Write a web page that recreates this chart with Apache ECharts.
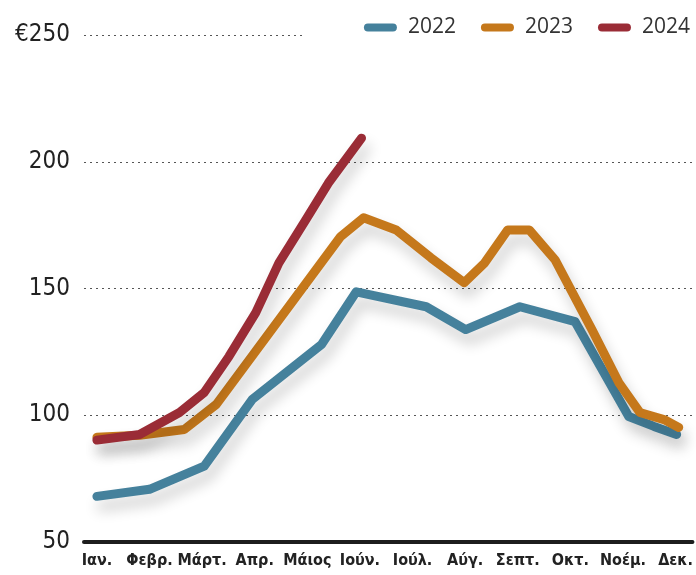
<!DOCTYPE html>
<html>
<head>
<meta charset="utf-8">
<title>Τιμές 2022-2024</title>
<style>
  * { margin: 0; padding: 0; }
  html, body { width: 100%; height: 100%; background: #fff; }
  #box { width: 696px; height: 575px; }
</style>
</head>
<body>
<div id="box"></div>
<script src="https://cdn.jsdelivr.net/npm/echarts@6/dist/echarts.min.js"></script>
<script>
var months = ['Ιαν.', 'Φεβρ.', 'Μάρτ.', 'Απρ.', 'Μάιος', 'Ιούν.', 'Ιούλ.', 'Αύγ.', 'Σεπτ.', 'Οκτ.', 'Νοέμ.', 'Δεκ.'];
var monthIdx = [0, 1, 2, 3, 4, 5, 6, 7, 8, 9, 10, 11];
var years = ['2022', '2023', '2024'];
var colors = ['#45819c', '#c5781b', '#9a2c36'];

// x = month index (0 = Ιαν.), fractional where the line bends between months
var x2022 = [0, 1.0, 2.04, 2.95, 4.27, 4.93, 6.26, 7.01, 8.04, 9.09, 10.11, 10.59, 11.02];
var v2022 = [68, 70.8, 79.9, 106.2, 127.9, 148.7, 142.8, 133.8, 142.8, 136.9, 99.5, 95.6, 92.4];

var x2023 = [0, 0.81, 1.66, 2.27, 4.63, 5.07, 5.69, 6.35, 6.98, 7.37, 7.81, 8.22, 8.71, 9.41, 9.92, 10.32, 10.78, 11.06];
var v2023 = [91.3, 92.1, 94.4, 104.3, 170.4, 177.9, 173.1, 162.1, 152.3, 160.1, 173.1, 173.1, 161.3, 133.8, 112.9, 101.1, 98.3, 95.2];

var x2024 = [0, 0.81, 1.57, 2.04, 2.51, 3.02, 3.46, 3.97, 4.40, 5.03];
var v2024 = [90.2, 92.4, 101.1, 109.0, 123.2, 140.5, 160.1, 177.1, 191.6, 209.3];

var yMin = 50, yMax = 250, yStep = 50;
var xMin = -0.2457, xMax = 11.321;

function pairs(xs, ys) {
  var out = [];
  for (var i = 0; i < xs.length; i++) {
    out.push([xs[i], ys[i]]);
  }
  return out;
}

function lineSeries(name, data, color) {
  return {
    name: name,
    type: 'line',
    data: data,
    symbol: 'none',
    color: color,
    lineStyle: {
      width: 9,
      color: color,
      cap: 'round',
      join: 'round',
      shadowColor: 'rgba(0,0,0,0.2)',
      shadowBlur: 14,
      shadowOffsetX: 4,
      shadowOffsetY: 10
    }
  };
}

var s1 = lineSeries(years[0], pairs(x2022, v2022), colors[0]);
// short top gridline (stops before the legend)
s1.markLine = {
  silent: true,
  symbol: 'none',
  label: { show: false },
  lineStyle: { type: [2, 4], color: '#555', width: 1, shadowBlur: 0, shadowColor: 'transparent' },
  data: [[{ coord: [xMin, yMax] }, { coord: [3.93, yMax] }]]
};

var myChart = echarts.init(document.getElementById('box'));
var option = {
  animation: false,
  backgroundColor: '#fff',
  grid: { left: 84, right: 0, top: 35, bottom: 33 },
  legend: {
    data: years,
    right: 1,
    top: 12,
    itemWidth: 33,
    itemHeight: 8,
    itemGap: 25,
    icon: 'path://M4,0 H29 A4,4 0 0 1 29,8 H4 A4,4 0 0 1 4,0 Z',
    itemStyle: { shadowBlur: 0, shadowColor: 'transparent' },
    textStyle: {
      fontFamily: 'Open Sans',
      fontSize: 21,
      color: '#333',
      padding: [0, 0, 0, 6]
    }
  },
  xAxis: {
    type: 'value',
    min: xMin,
    max: xMax,
    axisLine: { show: true, onZero: false, lineStyle: { color: '#1d1d1d', width: 4 } },
    axisTick: { show: false },
    splitLine: { show: false },
    axisLabel: {
      customValues: monthIdx,
      formatter: function (v) { return months[Math.round(v)]; },
      fontFamily: 'DejaVu Sans',
      fontWeight: 'condensed bold',
      fontSize: 16,
      color: '#222',
      margin: 11
    }
  },
  yAxis: {
    type: 'value',
    min: yMin,
    max: yMax,
    interval: yStep,
    axisLine: { show: false },
    axisTick: { show: false },
    splitLine: {
      show: true,
      lineStyle: { type: [2, 4], width: 1, color: ['transparent', '#555', '#555', '#555', 'transparent'] }
    },
    axisLabel: {
      formatter: function (v) { return v === yMax ? '€' + v : '' + v; },
      fontFamily: 'DejaVu Sans',
      fontWeight: 'condensed',
      fontSize: 24,
      color: '#222',
      margin: 14
    }
  },
  series: [
    s1,
    lineSeries(years[1], pairs(x2023, v2023), colors[1]),
    lineSeries(years[2], pairs(x2024, v2024), colors[2])
  ]
};
myChart.setOption(option);
</script>
</body>
</html>
